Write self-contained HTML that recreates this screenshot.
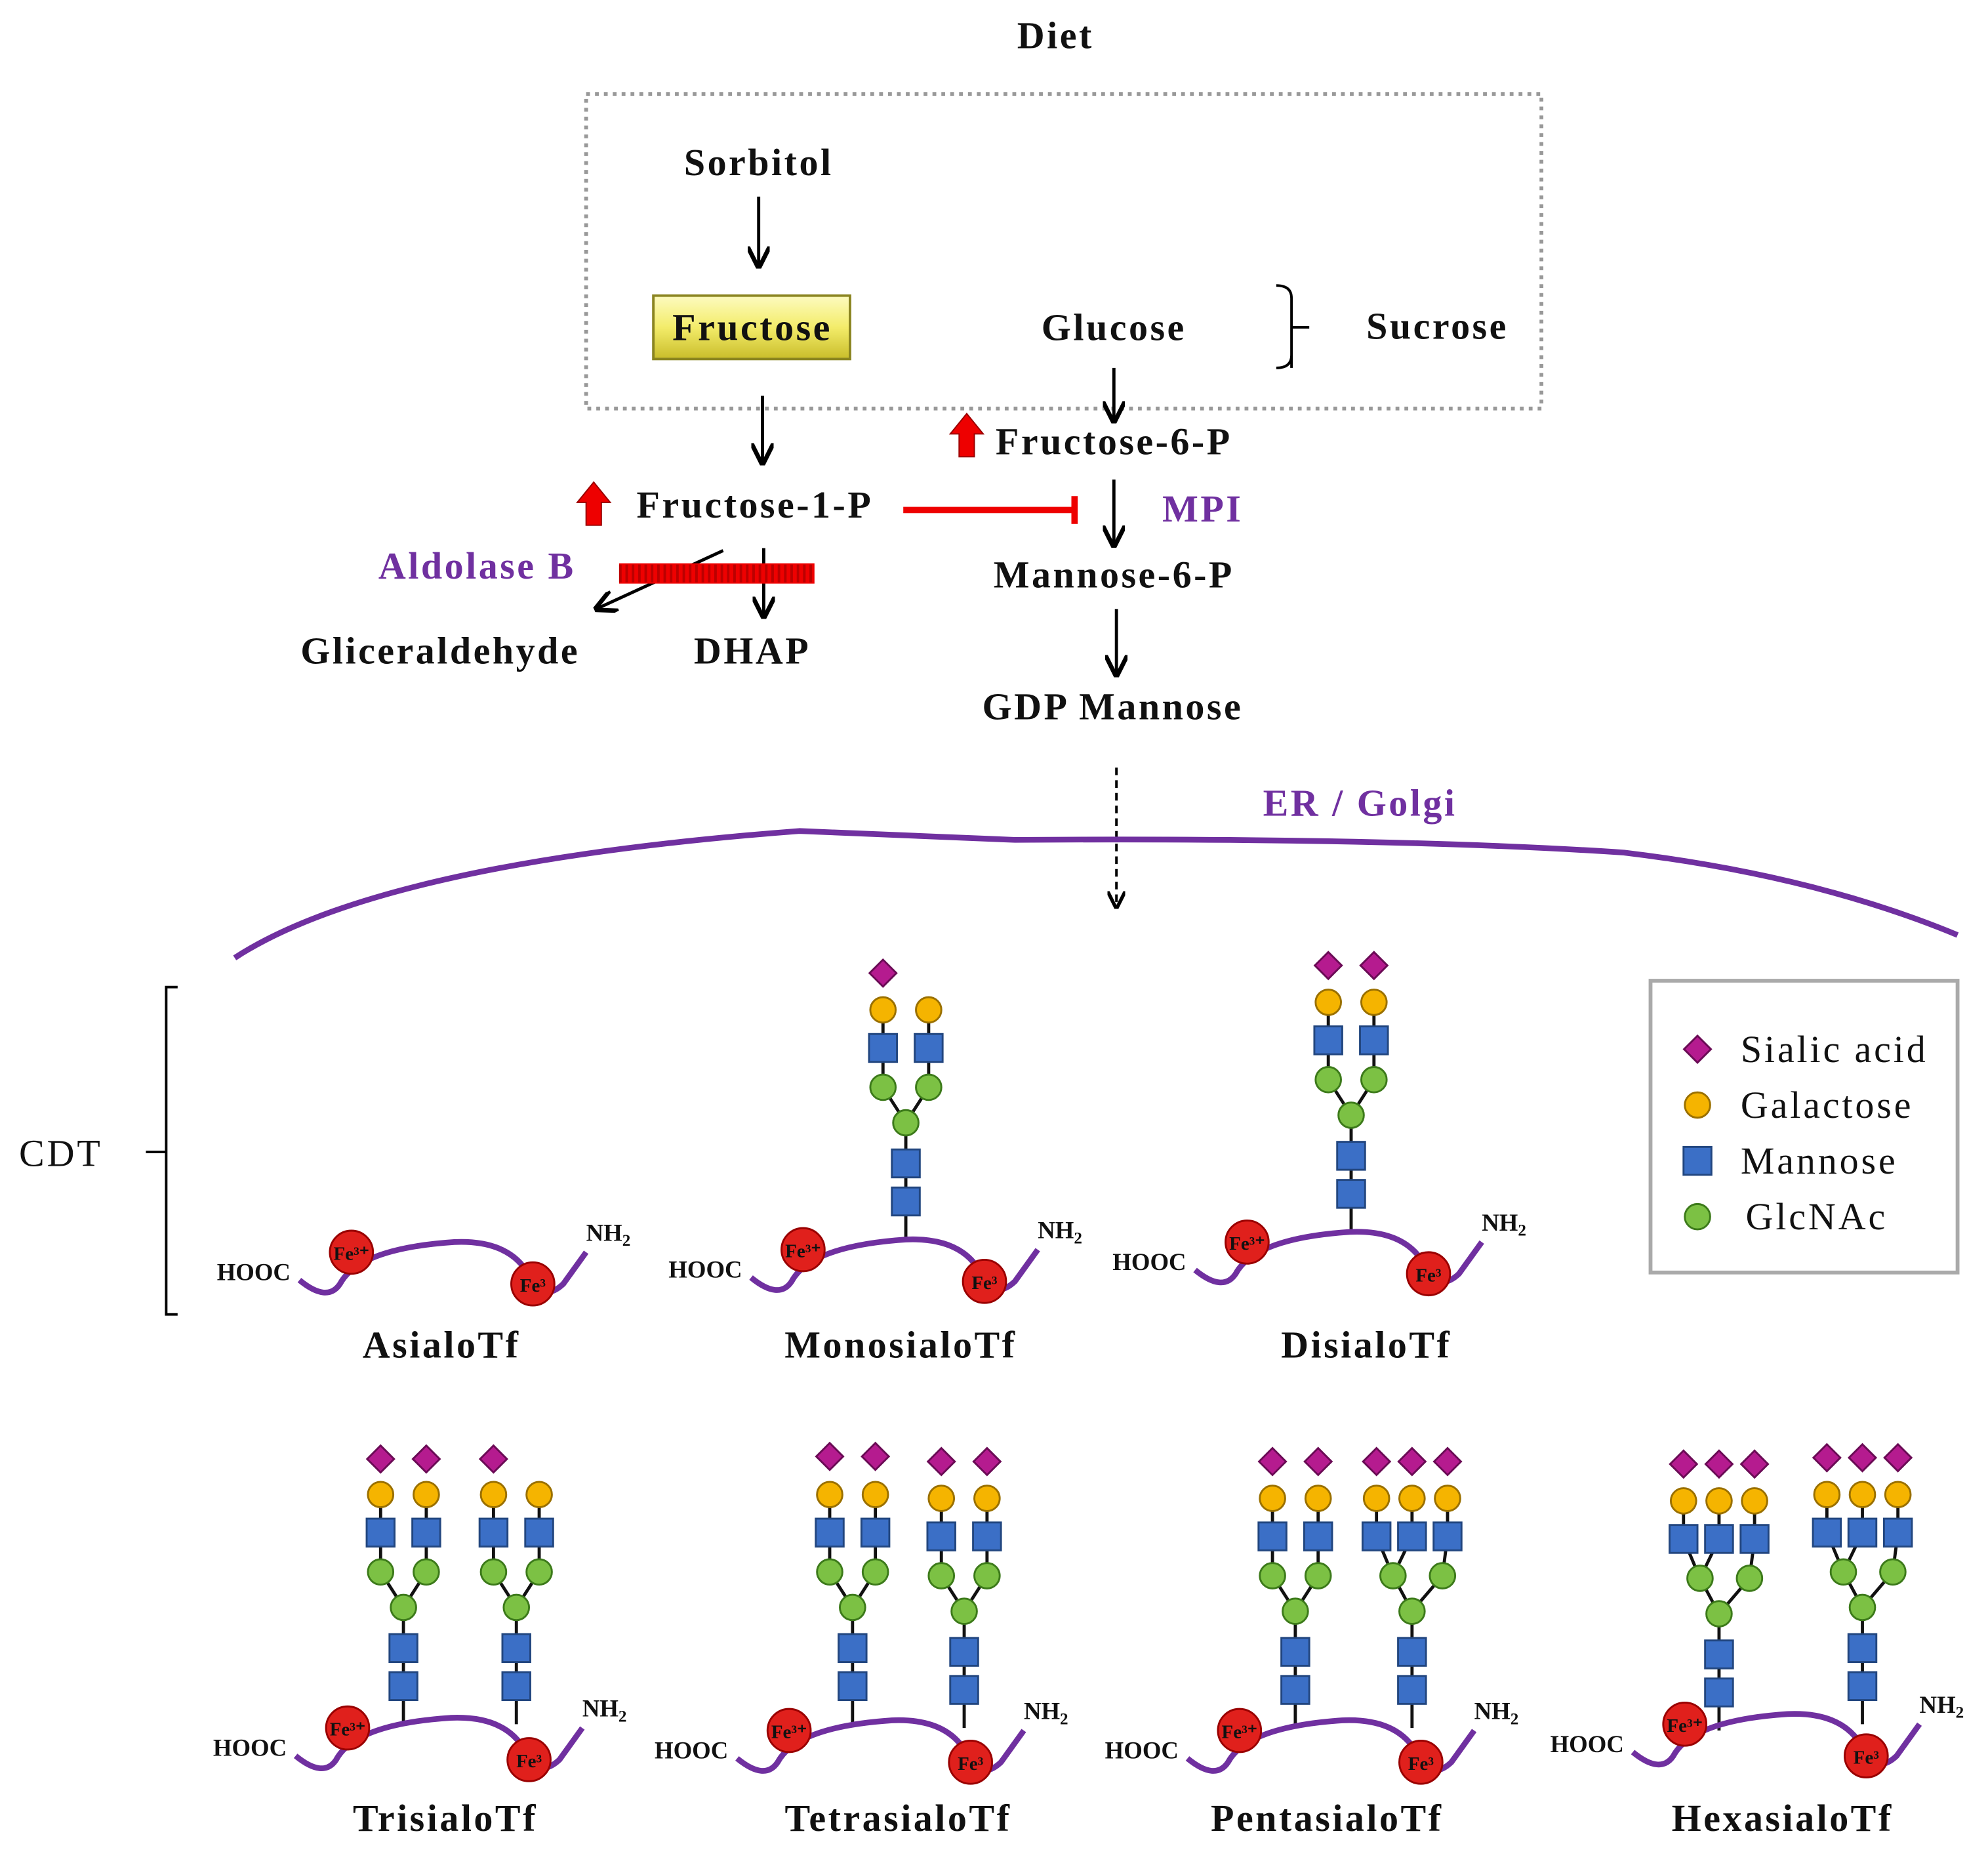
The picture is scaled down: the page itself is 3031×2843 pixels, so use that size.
<!DOCTYPE html>
<html><head><meta charset="utf-8"><style>
html,body{margin:0;padding:0;background:#fff;}
svg{display:block;}
text{font-family:"Liberation Serif",serif;font-weight:bold;fill:#111;}
text.L{letter-spacing:1.8px;}
text.N{letter-spacing:2px;font-weight:normal;}
</style></head><body>
<svg width="3031" height="2843" viewBox="0 0 1567 1470" preserveAspectRatio="none" xmlns="http://www.w3.org/2000/svg">
<defs>
<linearGradient id="yg" x1="0" y1="0" x2="0" y2="1"><stop offset="0" stop-color="#fdfbc0"/><stop offset="0.5" stop-color="#f3ec6a"/><stop offset="1" stop-color="#c9bd2a"/></linearGradient>
<marker id="ah" viewBox="0 0 10 10" refX="9" refY="5" markerWidth="7" markerHeight="7" orient="auto"><path d="M0,0 L10,5 L0,10" fill="none" stroke="#000" stroke-width="2"/></marker>
<g id="dia"><rect x="-7.5" y="-7.5" width="15" height="15" transform="rotate(45)" fill="#b51b8f" stroke="#6a0b55" stroke-width="1.5"/></g>
<circle id="gal" r="10" fill="#f5b400" stroke="#9a7000" stroke-width="1.5"/>
<rect id="man" x="-11" y="-11" width="22" height="22" fill="#3b6fc6" stroke="#22467f" stroke-width="1.5"/>
<circle id="glc" r="10" fill="#7cc144" stroke="#3c7a1a" stroke-width="1.5"/>
<g id="bi">
<path d="M0,0 V-92 L-18,-120 V-181 M0,-92 L18,-120 V-181" stroke="#111" stroke-width="2.5" fill="none"/>
<use href="#man" y="-30"/><use href="#man" y="-60"/><use href="#glc" y="-92"/>
<use href="#glc" x="-18" y="-120"/><use href="#glc" x="18" y="-120"/>
<use href="#man" x="-18" y="-151"/><use href="#man" x="18" y="-151"/>
<use href="#gal" x="-18" y="-181"/><use href="#gal" x="18" y="-181"/>
</g>
<g id="tri">
<path d="M0,0 V-92 L-15,-120 L-28,-151 V-181 M-15,-120 L0,-151 V-181 M0,-92 L24,-120 L28,-151 V-181" stroke="#111" stroke-width="2.5" fill="none"/>
<use href="#man" y="-30"/><use href="#man" y="-60"/><use href="#glc" y="-92"/>
<use href="#glc" x="-15" y="-120"/><use href="#glc" x="24" y="-120"/>
<use href="#man" x="-28" y="-151"/><use href="#man" x="0" y="-151"/><use href="#man" x="28" y="-151"/>
<use href="#gal" x="-28" y="-181"/><use href="#gal" x="0" y="-181"/><use href="#gal" x="28" y="-181"/>
</g>
<g id="prot">
<path d="M-122,30 Q-100,48 -90,33 Q-75,5 0,0 Q45,-2 60,28 Q70,48 86,33 L104,8" stroke="#7030a0" stroke-width="4.5" fill="none"/>
<circle cx="-81" cy="8" r="17" fill="#e0201c" stroke="#900" stroke-width="1.5"/>
<circle cx="62" cy="33" r="17" fill="#e0201c" stroke="#900" stroke-width="1.5"/>
<text x="-81" y="14" font-size="15" text-anchor="middle">Fe³⁺</text>
<text x="62" y="39" font-size="15" text-anchor="middle">Fe³</text>
<text x="-129" y="30" font-size="19" text-anchor="end">HOOC</text>
<text x="104" y="-1" font-size="19">NH<tspan font-size="13" dy="4">2</tspan></text>
</g>
</defs>

<text class="L" x="832" y="38" font-size="30" text-anchor="middle">Diet</text>
<rect x="462" y="74" width="753" height="248" fill="none" stroke="#999" stroke-width="3" stroke-dasharray="3,4"/>
<text class="L" x="598" y="138" font-size="30" text-anchor="middle">Sorbitol</text>
<line x1="598" y1="155" x2="598" y2="210" stroke="#000" stroke-width="2.5" marker-end="url(#ah)"/>
<rect x="515" y="233" width="155" height="50" fill="url(#yg)" stroke="#8a8420" stroke-width="2"/>
<text class="L" x="593" y="268" font-size="30" text-anchor="middle">Fructose</text>
<text class="L" x="878" y="268" font-size="30" text-anchor="middle">Glucose</text>
<path d="M1006,225 Q1018,225 1018,235 V290 M1018,258 H1032 M1018,280 Q1018,290 1006,290" stroke="#000" stroke-width="2" fill="none"/>
<text class="L" x="1133" y="267" font-size="30" text-anchor="middle">Sucrose</text>
<line x1="878" y1="290" x2="878" y2="332" stroke="#000" stroke-width="2.5" marker-end="url(#ah)"/>
<path d="M762,326 L775,342 H768 V360 H756 V342 H749 Z" fill="#e00" stroke="#900"/>
<text class="L" x="878" y="358" font-size="30" text-anchor="middle">Fructose-6-P</text>
<line x1="601" y1="312" x2="601" y2="365" stroke="#000" stroke-width="2.5" marker-end="url(#ah)"/>
<path d="M468,380 L481,396 H474 V414 H462 V396 H455 Z" fill="#e00" stroke="#900"/>
<text class="L" x="595" y="408" font-size="30" text-anchor="middle">Fructose-1-P</text>
<line x1="712" y1="402" x2="847" y2="402" stroke="#e00" stroke-width="5"/>
<line x1="847" y1="391" x2="847" y2="413" stroke="#e00" stroke-width="5"/>
<line x1="878" y1="378" x2="878" y2="430" stroke="#000" stroke-width="2.5" marker-end="url(#ah)"/>
<text class="L" x="948" y="411" font-size="30" text-anchor="middle" style="fill:#7030a0">MPI</text>
<text class="L" x="878" y="463" font-size="30" text-anchor="middle">Mannose-6-P</text>
<line x1="880" y1="480" x2="880" y2="532" stroke="#000" stroke-width="2.5" marker-end="url(#ah)"/>
<text class="L" x="877" y="567" font-size="30" text-anchor="middle">GDP Mannose</text>
<text class="L" x="376" y="456" font-size="30" text-anchor="middle" style="fill:#7030a0">Aldolase B</text>
<line x1="570" y1="434" x2="470" y2="480" stroke="#000" stroke-width="2.5" marker-end="url(#ah)"/>
<line x1="602" y1="432" x2="602" y2="486" stroke="#000" stroke-width="2.5" marker-end="url(#ah)"/>
<rect x="488" y="444" width="154" height="16" fill="#e00"/>
<line x1="488" y1="452" x2="642" y2="452" stroke="#b00" stroke-width="14" stroke-dasharray="2,3"/>
<text class="L" x="347" y="523" font-size="30" text-anchor="middle">Gliceraldehyde</text>
<text class="L" x="593" y="523" font-size="30" text-anchor="middle">DHAP</text>
<line x1="880" y1="605" x2="880" y2="715" stroke="#000" stroke-width="2" stroke-dasharray="6,4" marker-end="url(#ah)"/>
<text class="L" x="1072" y="643" font-size="30" text-anchor="middle" style="fill:#7030a0">ER / Golgi</text>
<path d="M185,755 Q300,680 630,655 L800,662 Q1100,660 1280,672 Q1430,690 1543,737" stroke="#7030a0" stroke-width="4.5" fill="none"/>

<text class="N" x="48" y="919" font-size="30" text-anchor="middle">CDT</text>
<path d="M140,778 H131 V1036 H140 M131,908 H115" stroke="#000" stroke-width="2" fill="none"/>

<rect x="1301" y="773" width="242" height="230" fill="#fff" stroke="#aaa" stroke-width="3"/>
<use href="#dia" x="1338" y="827"/><text class="N" x="1372" y="837" font-size="30">Sialic acid</text>
<use href="#gal" x="1338" y="871"/><text class="N" x="1372" y="881" font-size="30">Galactose</text>
<use href="#man" x="1338" y="915"/><text class="N" x="1372" y="925" font-size="30">Mannose</text>
<use href="#glc" x="1338" y="959"/><text class="N" x="1376" y="969" font-size="30">GlcNAc</text>

<use href="#prot" x="358" y="979"/>
<text class="L" x="348" y="1070" font-size="30" text-anchor="middle">AsialoTf</text>

<use href="#bi" x="714" y="977"/><use href="#prot" x="714" y="977"/>
<use href="#dia" x="696" y="767"/>
<text class="L" x="710" y="1070" font-size="30" text-anchor="middle">MonosialoTf</text>

<use href="#bi" x="1065" y="971"/><use href="#prot" x="1064" y="971"/>
<use href="#dia" x="1047" y="761"/><use href="#dia" x="1083" y="761"/>
<text class="L" x="1077" y="1070" font-size="30" text-anchor="middle">DisialoTf</text>

<use href="#bi" x="318" y="1359"/><use href="#bi" x="407" y="1359"/><use href="#prot" x="355" y="1354"/>
<use href="#dia" x="300" y="1150"/><use href="#dia" x="336" y="1150"/><use href="#dia" x="389" y="1150"/>
<text class="L" x="351" y="1443" font-size="30" text-anchor="middle">TrisialoTf</text>

<use href="#bi" x="672" y="1359"/><use href="#bi" x="760" y="1362"/><use href="#prot" x="703" y="1356"/>
<use href="#dia" x="654" y="1148"/><use href="#dia" x="690" y="1148"/><use href="#dia" x="742" y="1152"/><use href="#dia" x="778" y="1152"/>
<text class="L" x="708" y="1443" font-size="30" text-anchor="middle">TetrasialoTf</text>

<use href="#bi" x="1021" y="1362"/><use href="#tri" x="1113" y="1362"/><use href="#prot" x="1058" y="1356"/>
<use href="#dia" x="1003" y="1152"/><use href="#dia" x="1039" y="1152"/><use href="#dia" x="1085" y="1152"/><use href="#dia" x="1113" y="1152"/><use href="#dia" x="1141" y="1152"/>
<text class="L" x="1046" y="1443" font-size="30" text-anchor="middle">PentasialoTf</text>

<use href="#tri" x="1355" y="1364"/><use href="#tri" x="1468" y="1359"/><use href="#prot" x="1409" y="1351"/>
<use href="#dia" x="1327" y="1154"/><use href="#dia" x="1355" y="1154"/><use href="#dia" x="1383" y="1154"/>
<use href="#dia" x="1440" y="1149"/><use href="#dia" x="1468" y="1149"/><use href="#dia" x="1496" y="1149"/>
<text class="L" x="1405" y="1443" font-size="30" text-anchor="middle">HexasialoTf</text>
</svg>
</body></html>
